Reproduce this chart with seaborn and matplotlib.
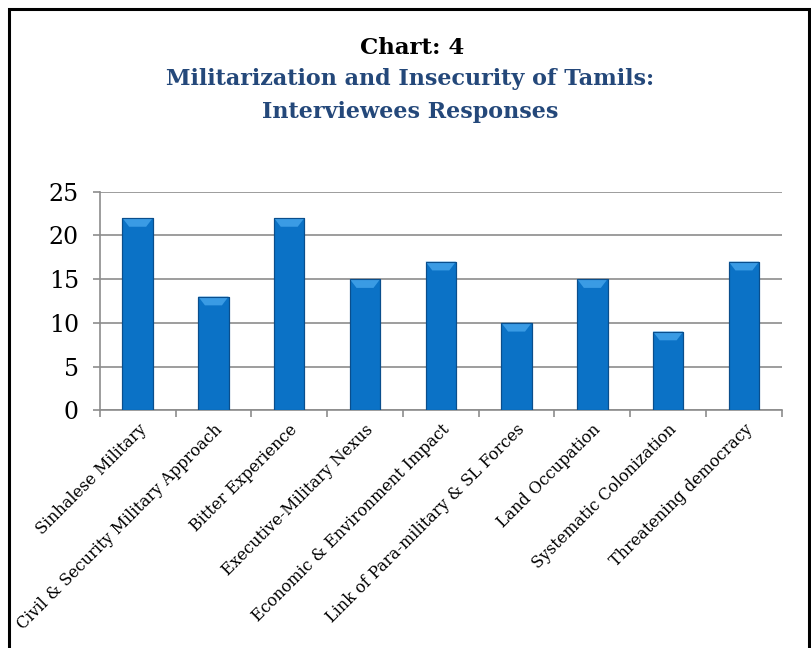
import matplotlib
matplotlib.use("Agg")
import matplotlib.pyplot as plt
import matplotlib.patches as mpatches
import seaborn as sns
import pandas as pd

categories = [
    "Sinhalese Military",
    "Civil & Security Military Approach",
    "Bitter Experience",
    "Executive-Military Nexus",
    "Economic & Environment Impact",
    "Link of Para-military & SL Forces",
    "Land Occupation",
    "Systematic Colonization",
    "Threatening democracy",
]
values = [22, 13, 22, 15, 17, 10, 15, 9, 17]
yticks = [0, 5, 10, 15, 20, 25]

title1 = "Chart: 4"
title2 = "Militarization and Insecurity of Tamils:\nInterviewees Responses"

sns.set_theme(style="white")
plt.rcParams['font.family'] = ['DejaVu Serif']

df = pd.DataFrame({"category": categories, "value": values})

fig = plt.figure(figsize=(8.11, 6.48), dpi=100)
ax = fig.add_axes([0.123, 0.367, 0.841, 0.337])

sns.barplot(data=df, x="category", y="value", color="#0B72C6", width=0.4,
            edgecolor="#0A4E8C", linewidth=0.8, saturation=1, ax=ax, zorder=3)

# bevel highlight on top of each bar, derived from the bar geometry
for p in list(ax.patches):
    x0 = p.get_x()
    w = p.get_width()
    top = p.get_y() + p.get_height()
    d = w * 0.22
    h = 1.0
    poly = mpatches.Polygon([(x0, top), (x0 + w, top), (x0 + w - d, top - h), (x0 + d, top - h)],
                            closed=True, facecolor="#3A9BE4", edgecolor="none", zorder=4)
    ax.add_patch(poly)
    ax.add_patch(mpatches.Rectangle((x0, p.get_y()), w, p.get_height(), fill=False,
                                    edgecolor="#0A4E8C", linewidth=0.8, zorder=5))

ax.set_xlim(-0.5, len(categories) - 0.5)
ax.set_ylim(0, 25)
ax.set_yticks(yticks)
ax.set_yticklabels([str(v) for v in yticks], fontsize=17, color="black")
ax.yaxis.grid(True, color="#8c8c8c", linewidth=1.2, zorder=0)
ax.set_axisbelow(True)

ax.set_xticks(range(len(categories)))
ax.set_xticklabels(categories, rotation=45, ha="right", rotation_mode="anchor",
                   fontsize=11.5, color="black")
ax.set_xticks([i - 0.5 for i in range(len(categories) + 1)], minor=True)
ax.tick_params(axis="x", which="major", length=0, pad=8)
ax.tick_params(axis="x", which="minor", length=5, width=1.2, color="#8c8c8c", direction="out", bottom=True)
ax.tick_params(axis="y", length=5, width=1.2, color="#8c8c8c", direction="out", left=True, pad=10)

for side in ["top", "right"]:
    ax.spines[side].set_visible(False)
for side in ["left", "bottom"]:
    ax.spines[side].set_color("#8c8c8c")
    ax.spines[side].set_linewidth(1.2)

ax.set_xlabel("")
ax.set_ylabel("")

fig.text(0.508, 0.926, title1, ha="center", va="center", fontsize=16.5,
         fontweight="bold", color="black")
fig.text(0.506, 0.853, title2, ha="center", va="center", fontsize=16,
         fontweight="bold", color="#24487A", linespacing=1.65)

border = mpatches.Rectangle((0.011, -0.02), 0.987, 1.006, transform=fig.transFigure,
                            fill=False, edgecolor="black", linewidth=2.2)
fig.patches.append(border)

fig.savefig("out.png", dpi=100)
